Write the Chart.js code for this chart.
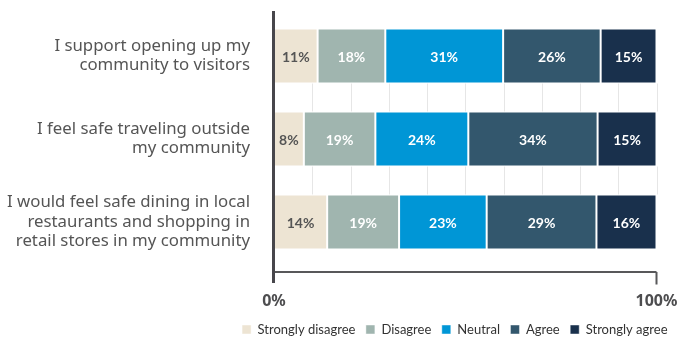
<!DOCTYPE html>
<html>
<head>
<meta charset="utf-8">
<script src="https://cdn.jsdelivr.net/npm/chart.js@4"></script>
<style>
  html, body { margin: 0; padding: 0; background: #fff; }
  #wrap { width: 684px; height: 337px; }
</style>
</head>
<body>
<div id="wrap"><canvas id="surveyChart"></canvas></div>
<script>
// statements (one bar each)
const statements = [
  ['I support opening up my', 'community to visitors'],
  ['I feel safe traveling outside', 'my community'],
  ['I would feel safe dining in local', 'restaurants and shopping in', 'retail stores in my community']
];
const responses = ['Strongly disagree', 'Disagree', 'Neutral', 'Agree', 'Strongly agree'];
const colors = ['#EDE4D3', '#A0B5AF', '#0096D6', '#33576D', '#19304C'];
const labelColors = ['#555555', '#ffffff', '#ffffff', '#ffffff', '#ffffff'];

// share of answers (%), per response, for each statement
const stronglyDisagree = [11.4, 7.8, 13.9];
const disagree = [17.7, 18.7, 18.8];
const neutral = [30.8, 24.3, 22.9];
const agree = [25.5, 33.8, 28.7];
const stronglyAgree = [14.6, 15.4, 15.7];

const xTicksShown = [0, 100];

const seriesValues = [stronglyDisagree, disagree, neutral, agree, stronglyAgree];

// gridlines only in the gaps between the bars
const gapGrid = {
  id: 'gapGrid',
  beforeDatasetsDraw(chart) {
    const ctx = chart.ctx;
    const x = chart.scales.x;
    const meta = chart.getDatasetMeta(0);
    ctx.save();
    ctx.strokeStyle = '#e6e6e6';
    ctx.lineWidth = 1;
    for (let i = 0; i < meta.data.length - 1; i++) {
      const a = meta.data[i], b = meta.data[i + 1];
      const y0 = a.y + a.height / 2;
      const y1 = b.y - b.height / 2;
      x.ticks.forEach(t => {
        if (t.value === 0) return;
        const px = Math.round(x.getPixelForValue(t.value)) + 0.5;
        ctx.beginPath();
        ctx.moveTo(px, y0);
        ctx.lineTo(px, y1);
        ctx.stroke();
      });
    }
    ctx.restore();
  }
};

// axis lines a bit longer than the plot area, like the original
const axisLines = {
  id: 'axisLines',
  afterDatasetsDraw(chart) {
    const ctx = chart.ctx;
    const a = chart.chartArea;
    ctx.save();
    ctx.strokeStyle = '#58585a';
    ctx.lineWidth = 2;
    ctx.beginPath();
    ctx.moveTo(a.left, a.bottom + 8.5);
    ctx.lineTo(a.right, a.bottom + 8.5);
    ctx.moveTo(a.right, a.bottom + 8.5);
    ctx.lineTo(a.right, a.bottom + 21);
    ctx.stroke();
    ctx.strokeStyle = '#47464b';
    ctx.lineWidth = 3;
    ctx.beginPath();
    ctx.moveTo(a.left - 0.5, a.top - 3.5);
    ctx.lineTo(a.left - 0.5, a.bottom + 19.5);
    ctx.stroke();
    ctx.restore();
  }
};

// value labels inside segments
const segLabels = {
  id: 'segLabels',
  afterDatasetsDraw(chart) {
    const ctx = chart.ctx;
    ctx.save();
    ctx.font = 'bold 14px Lato';
    ctx.textAlign = 'center';
    ctx.textBaseline = 'middle';
    chart.data.datasets.forEach((ds, di) => {
      chart.getDatasetMeta(di).data.forEach((bar, i) => {
        const v = ds.data[i];
        const cx = (bar.x + bar.base) / 2;
        ctx.fillStyle = labelColors[di];
        ctx.fillText(Math.round(v) + '%', cx, bar.y + 1);
      });
    });
    ctx.restore();
  }
};

const ctx = document.getElementById('surveyChart').getContext('2d');
const surveyChart = new Chart(ctx, {
  type: 'bar',
  data: {
    labels: statements,
    datasets: responses.map((r, i) => ({
      label: r,
      data: seriesValues[i],
      backgroundColor: colors[i],
      borderColor: 'rgba(255,255,255,0.45)',
      borderWidth: 1,
      borderSkipped: false,
      barPercentage: 1,
      categoryPercentage: 0.663
    }))
  },
  options: {
    indexAxis: 'y',
    responsive: true,
    maintainAspectRatio: false,
    animation: false,
    layout: {
      padding: { top: 14.5, bottom: 0, left: 0, right: 6 }
    },
    plugins: {
      legend: {
        position: 'bottom',
        align: 'end',
        maxHeight: 24.5,
        labels: {
          boxWidth: 9,
          boxHeight: 9,
          padding: 10.5,
          color: '#333333',
          font: { family: 'Lato', size: 13 }
        }
      },
      tooltip: { enabled: false }
    },
    scales: {
      x: {
        stacked: true,
        min: 0,
        max: 100,
        grid: { display: false, drawTicks: false },
        border: { display: false },
        afterFit: s => { s.paddingLeft = 0; s.paddingRight = 27.5; s.height = 49; },
        ticks: {
          stepSize: 10,
          padding: 28,
          autoSkip: false,
          maxRotation: 0,
          minRotation: 0,
          color: '#4d4d4f',
          font: { family: 'Noto Sans', size: 16, weight: 'bold' },
          callback: v => xTicksShown.includes(v) ? v + '%' : ''
        }
      },
      y: {
        stacked: true,
        grid: { display: false, drawTicks: false },
        border: { display: false },
        afterFit: s => { s.width = 274; s.paddingTop = 0; s.paddingBottom = 0; },
        ticks: {
          padding: 24,
          autoSkip: false,
          color: '#555555',
          font: { family: 'Noto Sans', size: 16.8, lineHeight: 1.15 }
        }
      }
    }
  },
  plugins: [gapGrid, axisLines, segLabels]
});
</script>
</body>
</html>
